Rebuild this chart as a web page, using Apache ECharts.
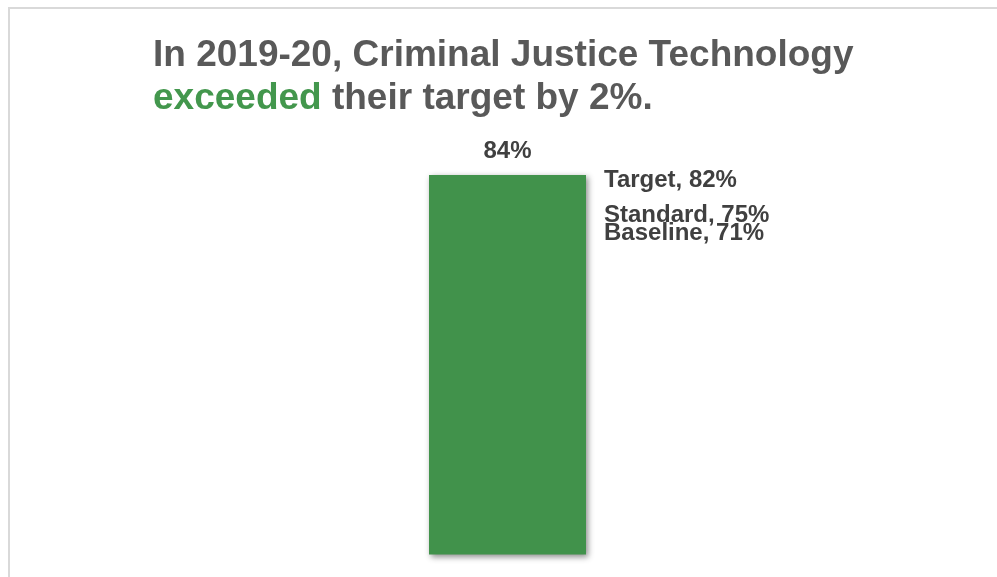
<!DOCTYPE html>
<html>
<head>
<meta charset="utf-8">
<script src="https://cdn.jsdelivr.net/npm/echarts@6/dist/echarts.min.js"></script>
<style>
html,body{margin:0;padding:0;background:#fff;}
#c{width:997px;height:577px;position:relative;}
#frame{position:absolute;left:8px;top:7px;right:0;bottom:0;border-top:2px solid #d9d9d9;border-left:2px solid #d9d9d9;pointer-events:none;}
</style>
</head>
<body>
<div style="position:relative;width:997px;height:577px;">
<div id="c"></div>
<div id="frame"></div>
</div>
<script>
var categories = ['2019-20'];
var actualValues = [84];
var refNames = ['Target', 'Standard', 'Baseline'];
var refValues = [82, 75, 71];

var chart = echarts.init(document.getElementById('c'), null, {renderer: 'canvas'});
var labelFont = {fontFamily: 'Liberation Sans, Arial, sans-serif', fontWeight: 'bold', fontSize: 24, color: '#404040'};
var refOffsets = [[0, -4], [0, 0], [0, 0]];

var series = [{
  type: 'bar',
  data: actualValues,
  barWidth: 157,
  itemStyle: {color: '#41924b', shadowBlur: 6, shadowColor: 'rgba(0,0,0,0.45)', shadowOffsetX: 2, shadowOffsetY: 2},
  label: Object.assign({show: true, position: 'top', distance: 12, formatter: '{c}%'}, labelFont),
  z: 2
}];
refNames.forEach(function (n, i) {
  series.push({
    type: 'scatter',
    name: n,
    data: [refValues[i]],
    symbolSize: 1,
    itemStyle: {color: 'rgba(0,0,0,0)', opacity: 1},
    label: Object.assign({show: true, position: 'right', distance: 96, offset: refOffsets[i], opacity: 1, formatter: '{a}, {c}%'}, labelFont),
    z: 5
  });
});

chart.setOption({
  animation: false,
  title: {
    left: 148, top: 29,
    text: '{g|In 2019-20, Criminal Justice Technology}\n{e|exceeded}{g| their target by 2%.}',
    textStyle: {
      rich: {
        g: {fontFamily: 'Liberation Sans, Arial, sans-serif', fontWeight: 'bold', fontSize: 37, color: '#595959', lineHeight: 43},
        e: {fontFamily: 'Liberation Sans, Arial, sans-serif', fontWeight: 'bold', fontSize: 37, color: '#43974d', lineHeight: 43}
      }
    }
  },
  grid: {left: 350, right: 332, top: 102.7, bottom: 22.5},
  xAxis: {type: 'category', data: categories, show: false},
  yAxis: {type: 'value', min: 0, max: 100, show: false},
  series: series
});
</script>
</body>
</html>
